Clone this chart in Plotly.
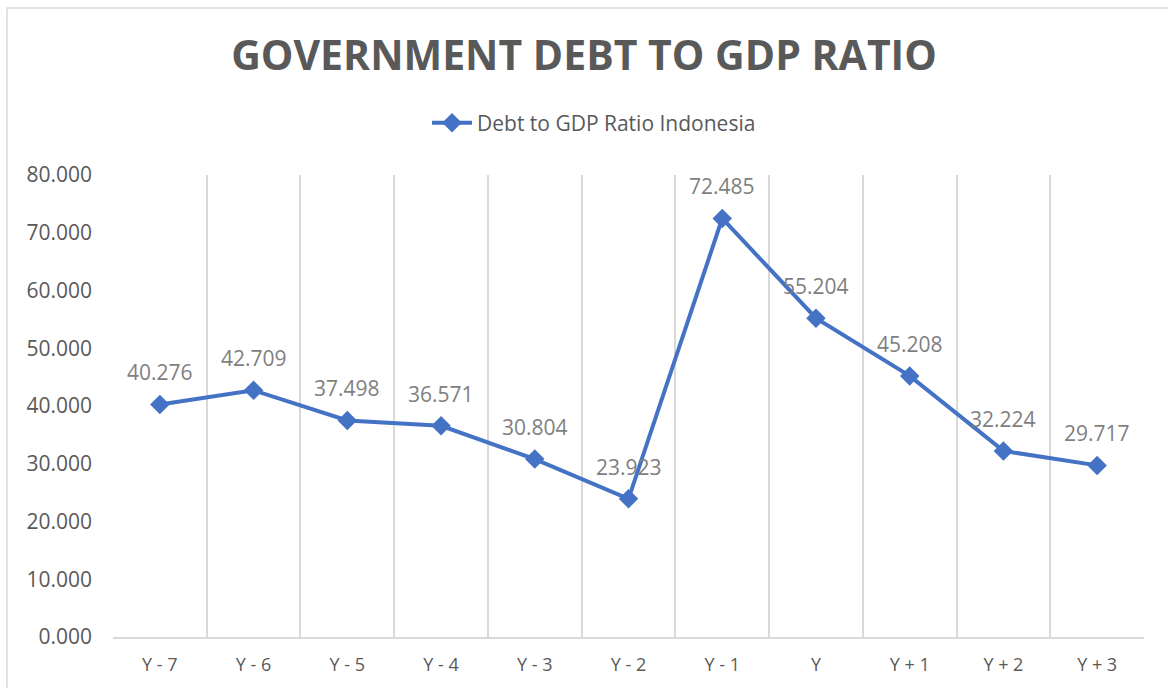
import plotly.graph_objects as go

categories = ["Y - 7", "Y - 6", "Y - 5", "Y - 4", "Y - 3", "Y - 2", "Y - 1", "Y", "Y + 1", "Y + 2", "Y + 3"]
debt_ratio = [40.276, 42.709, 37.498, 36.571, 30.804, 23.923, 72.485, 55.204, 45.208, 32.224, 29.717]
y_ticks = [0, 10, 20, 30, 40, 50, 60, 70, 80]

W, H = 1168, 688
L, R, T, B = 113, 24, 175, 51
pw, ph = W - L - R, H - T - B

FONT = "Open Sans"
LINE = "#4472C4"

fig = go.Figure()
fig.add_trace(go.Scatter(
    x=categories, y=debt_ratio, mode="lines+markers",
    name="Debt to GDP Ratio Indonesia",
    line=dict(color=LINE, width=4),
    marker=dict(symbol="diamond", size=15, color=LINE),
))

annotations = [
    dict(x=c, y=v, xref="x", yref="y", text=f"{v:.3f}", showarrow=False,
         yshift=32, font=dict(family=FONT, size=21, color="#7f7f7f"))
    for c, v in zip(categories, debt_ratio)
]

fig.update_layout(
    width=W, height=H,
    margin=dict(l=L, r=R, t=T, b=B, pad=0),
    paper_bgcolor="white", plot_bgcolor="white",
    font=dict(family=FONT, color="#595959", size=21),
    title=dict(text="<b>GOVERNMENT DEBT TO GDP RATIO</b>",
               x=0.5, xanchor="center", y=1 - 56 / H, yanchor="middle",
               font=dict(family=FONT, size=41, color="#595959")),
    showlegend=True,
    legend=dict(orientation="h", xref="container", x=594 / W, xanchor="center",
                y=1 - 123 / H, yanchor="middle", yref="container",
                font=dict(family=FONT, size=21, color="#595959"),
                bgcolor="rgba(0,0,0,0)", itemwidth=40),
    annotations=annotations,
    shapes=[dict(type="rect", xref="paper", yref="paper",
                 x0=(7 - L) / pw, x1=(W + 5 - L) / pw,
                 y0=-(B + 5) / ph, y1=1 + (T - 8) / ph,
                 line=dict(color="#d9d9d9", width=1.5), fillcolor="rgba(0,0,0,0)", layer="below")],
)

fig.update_xaxes(
    type="category", tickson="boundaries", showgrid=True, gridcolor="#d9d9d9", gridwidth=1.5,
    showline=True, linecolor="#d9d9d9", linewidth=1.5, ticks="", zeroline=False,
    tickfont=dict(family=FONT, size=18, color="#595959"), ticklabelstandoff=11,
    range=[-0.5, 10.5], mirror=False,
)
fig.update_yaxes(
    range=[0, 80], tickvals=y_ticks, ticktext=[f"{t:.3f}" for t in y_ticks],
    showgrid=False, zeroline=False, showline=False, ticks="",
    tickfont=dict(family=FONT, size=21, color="#595959"), ticklabelstandoff=20,
)

fig.write_html("out.html")
